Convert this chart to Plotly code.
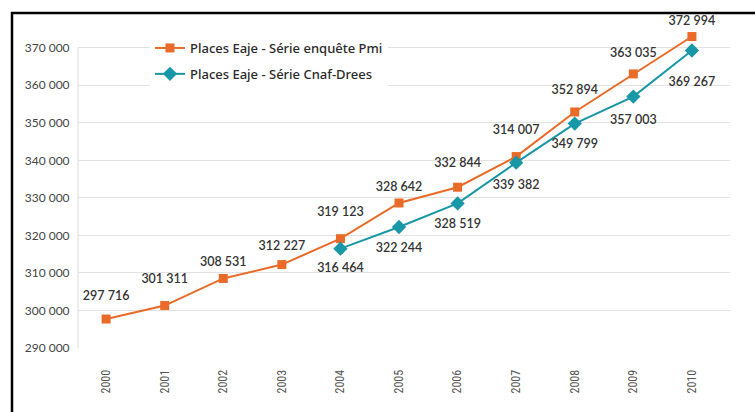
import plotly.graph_objects as go

years = ["2000", "2001", "2002", "2003", "2004", "2005", "2006", "2007", "2008", "2009", "2010"]
pmi_values = [297716, 301311, 308531, 312227, 319123, 328642, 332844, 341007, 352894, 363035, 372994]
pmi_labels = ["297 716", "301 311", "308 531", "312 227", "319 123", "328 642", "332 844", "314 007", "352 894", "363 035", "372 994"]
cnaf_years = ["2004", "2005", "2006", "2007", "2008", "2009", "2010"]
cnaf_values = [316464, 322244, 328519, 339382, 349799, 357003, 369267]
cnaf_labels = ["316 464", "322 244", "328 519", "339 382", "349 799", "357 003", "369 267"]
y_ticks = [290000, 300000, 310000, 320000, 330000, 340000, 350000, 360000, 370000]
y_ticktext = ["290 000", "300 000", "310 000", "320 000", "330 000", "340 000", "350 000", "360 000", "370 000"]

ORANGE = "#EA6A27"
TEAL = "#1897A6"
W, H = 755, 412
ML, MR, MT, MB = 78, 25, 29, 64
Y_MIN, Y_MAX = 290000, 375000

# label offsets (style): invisible marker sizes that push the labels away from the points
pmi_pad = [24, 30, 14, 16, 30, 12, 26, 30, 22, 20, 12]
cnaf_pad = [20, 24, 22, 26, 22, 28, 40]

label_font = dict(family="Lato, sans-serif", size=12.5, color="#333333", weight=600)

fig = go.Figure()
fig.add_trace(go.Scatter(
    x=years, y=pmi_values, mode="lines+markers", name="Places Eaje - Série enquête Pmi",
    line=dict(color=ORANGE, width=2), marker=dict(symbol="square", size=9, color=ORANGE),
    legendgroup="a", hoverinfo="skip"))
fig.add_trace(go.Scatter(
    x=cnaf_years, y=cnaf_values, mode="lines+markers", name="Places Eaje - Série Cnaf-Drees",
    line=dict(color=TEAL, width=2), marker=dict(symbol="diamond", size=11, color=TEAL),
    legendgroup="b", hoverinfo="skip"))
fig.add_trace(go.Scatter(
    x=years, y=pmi_values, mode="markers+text", text=pmi_labels, textposition="top center",
    textfont=label_font, marker=dict(size=pmi_pad, opacity=0, color="white"),
    showlegend=False, hoverinfo="skip", cliponaxis=False))
fig.add_trace(go.Scatter(
    x=cnaf_years, y=cnaf_values, mode="markers+text", text=cnaf_labels, textposition="bottom center",
    textfont=label_font, marker=dict(size=cnaf_pad, opacity=0, color="white"),
    showlegend=False, hoverinfo="skip", cliponaxis=False))

pw = W - ML - MR
ph = H - MT - MB
fx = lambda px: (px - ML) / pw
fy = lambda py: (H - MB - py) / ph
shapes = [
    dict(type="line", xref="paper", yref="paper", x0=fx(12), x1=fx(12), y0=fy(12), y1=fy(H + 20),
         line=dict(color="black", width=2.5)),
    dict(type="line", xref="paper", yref="paper", x0=fx(11), x1=fx(W + 20), y0=fy(13), y1=fy(13),
         line=dict(color="black", width=2.5)),
    dict(type="line", xref="paper", yref="y", x0=0, x1=0, y0=y_ticks[0], y1=y_ticks[-1],
         line=dict(color="#dcdcdc", width=1), layer="below"),
]

fig.update_layout(
    width=W, height=H,
    margin=dict(l=ML, r=MR, t=MT, b=MB),
    paper_bgcolor="white", plot_bgcolor="white",
    showlegend=True,
    legend=dict(x=fx(150), y=fy(33), xanchor="left", yanchor="top", bgcolor="white",
                font=dict(family="Noto Sans, sans-serif", size=13, color="#2a2a2a", weight=500),
                tracegroupgap=6, traceorder="grouped"),
    shapes=shapes,
    xaxis=dict(type="category", range=[-0.48, 10.65], showgrid=False, showline=False,
               tickangle=-90, ticks="outside", ticklen=16, tickcolor="rgba(0,0,0,0)",
               tickfont=dict(family="Liberation Sans Narrow, Roboto Condensed, Liberation Sans, sans-serif", size=12, color="#555555")),
    yaxis=dict(range=[Y_MIN, Y_MAX], tickvals=y_ticks, ticktext=y_ticktext,
               showgrid=True, gridcolor="#e2e2e2", gridwidth=1, zeroline=False,
               showline=False, ticks="outside", ticklen=5, tickcolor="rgba(0,0,0,0)",
               tickfont=dict(family="Lato, sans-serif", size=12, color="#444444")),
)

fig.write_html("out.html", config={"displayModeBar": False},
               post_script="document.body.style.margin='0px';")
